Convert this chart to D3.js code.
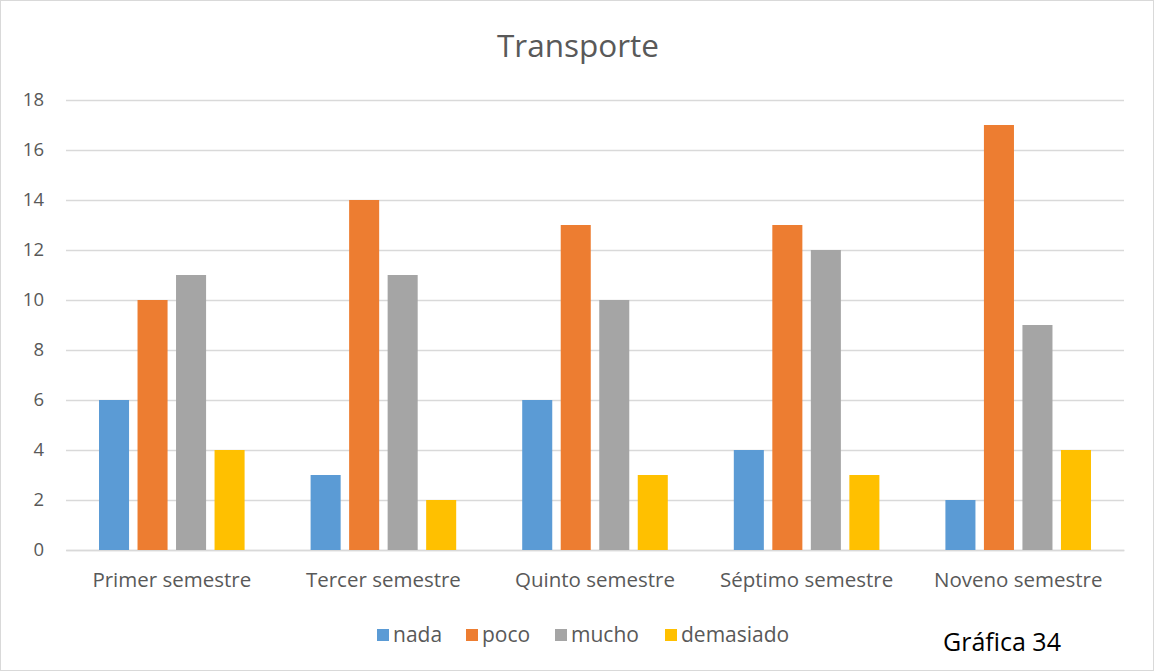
<!DOCTYPE html>
<html><head><meta charset="utf-8">
<script src="https://cdn.jsdelivr.net/npm/d3@7"></script>
<style>
body{margin:0;background:#fff;}
text{font-family:"Open Sans","Noto Sans",sans-serif;}
</style></head>
<body><svg id="c" width="1154" height="671"></svg>
<script>
const title = "Transporte";
const categories = ["Primer semestre","Tercer semestre","Quinto semestre","Séptimo semestre","Noveno semestre"];
const seriesNames = ["nada","poco","mucho","demasiado"];
const nada = [6,3,6,4,2];
const poco = [10,14,13,13,17];
const mucho = [11,11,10,12,9];
const demasiado = [4,2,3,3,4];
const yTicks = [0,2,4,6,8,10,12,14,16,18];
const colors = ["#5B9BD5","#ED7D31","#A5A5A5","#FFC000"];
const footnote = "Gráfica 34";

const seriesValues = [nada,poco,mucho,demasiado];
const svg = d3.select("#c");
svg.append("rect").attr("x",0.5).attr("y",0.5).attr("width",1153).attr("height",670)
  .attr("fill","#fff").attr("stroke","#d9d9d9");

const pL=66, pR=1124, pT=100, pB=550;
const x = d3.scaleBand().domain(categories).range([pL,pR]).paddingInner(0).paddingOuter(0);
const y = d3.scaleLinear().domain([0,18]).range([pB,pT]);
const x1 = d3.scaleBand().domain(seriesNames).range([0,x.bandwidth()]).paddingInner(0.22).paddingOuter(0.857);

svg.append("text").attr("x",578).attr("y",57).attr("text-anchor","middle")
  .attr("font-size",31.5).attr("fill","#595959").text(title);

const yAxis = d3.axisLeft(y).tickValues(yTicks).tickSize(-(pR-pL)).tickFormat(d3.format("d"));
const gy = svg.append("g").attr("transform",`translate(${pL},0)`).call(yAxis);
gy.select(".domain").remove();
gy.selectAll(".tick line").attr("stroke","#d9d9d9").attr("stroke-width",1.3);
gy.selectAll(".tick text").attr("x",-22).attr("font-size",18.5).attr("fill","#595959")
  .attr("font-family","'Open Sans',sans-serif");

const xAxis = d3.axisBottom(x).tickSize(0).tickPadding(22);
const gx = svg.append("g").attr("transform",`translate(0,${pB})`).call(xAxis);
gx.select(".domain").attr("stroke","#d9d9d9").attr("stroke-width",1.3);
gx.selectAll(".tick text").attr("font-size",20.5).attr("fill","#595959")
  .attr("font-family","'Open Sans',sans-serif");

seriesNames.forEach((s,si)=>{
  const g = svg.append("g");
  g.selectAll("rect").data(categories).join("rect")
    .attr("x",c=>x(c)+x1(s)).attr("width",x1.bandwidth())
    .attr("y",(c,i)=>y(seriesValues[si][i])).attr("height",(c,i)=>pB-y(seriesValues[si][i]))
    .attr("fill",colors[si]);
});

const legX = [377,466,555,665];
const lg = svg.append("g");
seriesNames.forEach((s,i)=>{
  lg.append("rect").attr("x",legX[i]).attr("y",629).attr("width",12).attr("height",12).attr("fill",colors[i]);
  lg.append("text").attr("x",legX[i]+16).attr("y",642).attr("font-size",21).attr("fill","#595959").text(s);
});

svg.append("text").attr("x",943).attr("y",651).attr("font-size",25).attr("fill","#000").text(footnote);
</script></body></html>
